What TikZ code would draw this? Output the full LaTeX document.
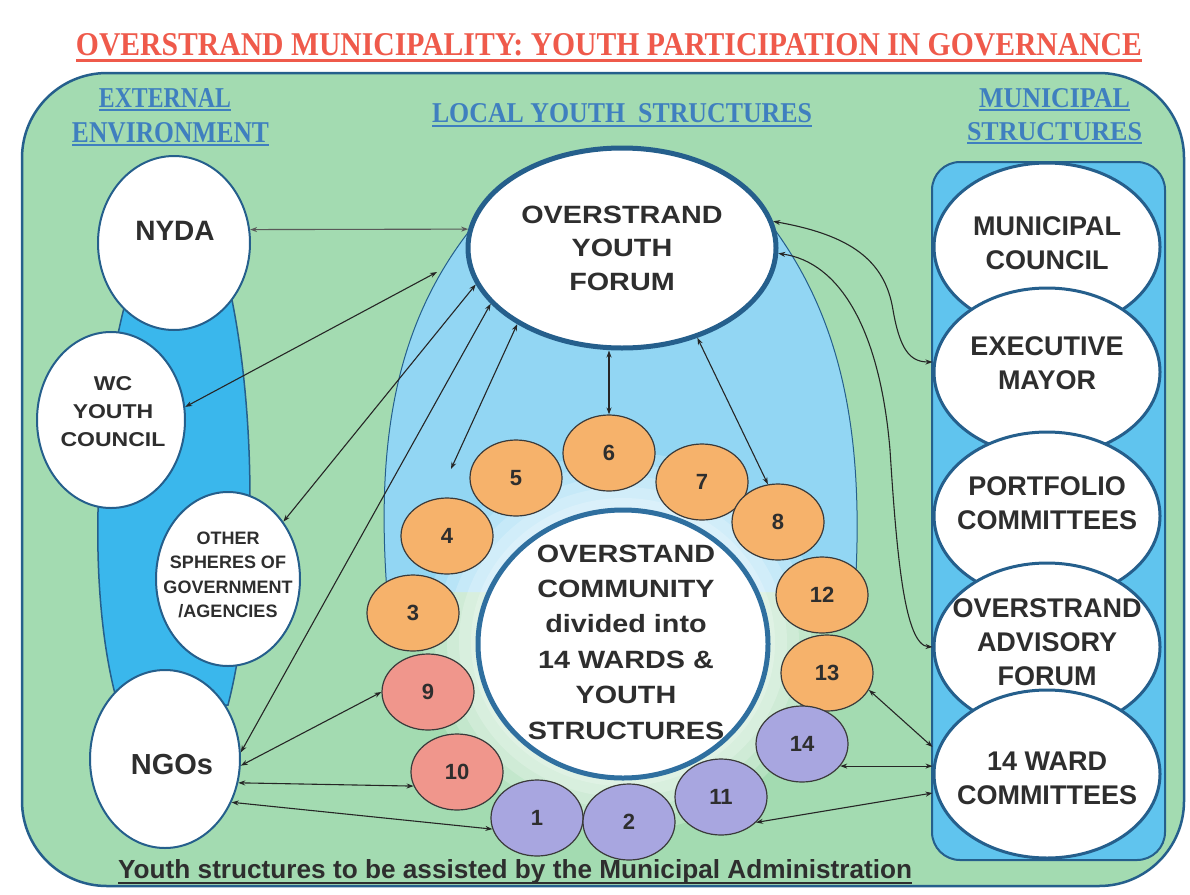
\documentclass[tikz,border=0pt]{standalone}
\usepackage{fontspec}
\usepackage{graphicx}
\setmainfont{Liberation Serif}
\newfontfamily\arial{Liberation Sans}
\newfontfamily\warial{Liberation Sans}[FakeStretch=1.15]
\usetikzlibrary{shapes.geometric,arrows.meta}
\definecolor{bggreen}{HTML}{A3DBB1}
\definecolor{borderblue}{HTML}{255F8C}
\definecolor{bandblue}{HTML}{3AB7EC}
\definecolor{archblue}{HTML}{92D6F3}
\definecolor{panelblue}{HTML}{60C4EE}
\definecolor{commblue}{HTML}{2F6F9F}
\definecolor{wardorange}{HTML}{F6B26B}
\definecolor{wardpink}{HTML}{F0968C}
\definecolor{wardlilac}{HTML}{A8A6E0}
\definecolor{wardedge}{HTML}{3A3A3A}
\definecolor{textdark}{HTML}{2E2E2E}
\definecolor{titlered}{HTML}{EF5A4B}
\definecolor{headblue}{HTML}{3F7FBF}
\tikzset{
  lcirc/.style={ellipse, draw=borderblue, line width=2pt, fill=white, inner sep=0pt},
  rcirc/.style={ellipse, draw=borderblue, line width=3pt, fill=white, inner sep=0pt,
                minimum width=226pt, minimum height=168pt},
  wardbase/.style={ellipse, draw=wardedge, line width=1.2pt, inner sep=0pt,
                minimum width=92pt, minimum height=76pt,
                font=\arial\bfseries\fontsize{22}{24}\selectfont, text=textdark},
  wo/.style={wardbase, fill=wardorange},
  wp/.style={wardbase, fill=wardpink},
  wl/.style={wardbase, fill=wardlilac},
  rtext/.style={font=\arial\bfseries\fontsize{27}{34}\selectfont, text=textdark, align=center},
  conn/.style={{Stealth[length=7pt,width=5pt]}-{Stealth[length=7pt,width=5pt]},
               line width=1.1pt, draw=black!85},
  headtxt/.style={text=headblue, inner sep=0pt, anchor=base},
  headline/.style={draw=headblue, line width=1.5pt}
}
\begin{document}
\begin{tikzpicture}[x=1pt,y=-1pt]
\useasboundingbox (0,0) rectangle (1190,894);
\fill[white] (0,0) rectangle (1190,894);

% main green area
\draw[fill=bggreen, draw=borderblue, line width=2.5pt, rounded corners=85pt]
  (22,73) rectangle (1184,886);

% left blue band
\draw[fill=bandblue, draw=borderblue, line width=1.5pt]
  (126,300) .. controls (92,430) and (88,600) .. (118,705) -- (228,705)
  .. controls (255,600) and (258,430) .. (232,300) -- cycle;

% local youth structures arch
\fill[archblue] (387,592) .. controls (375,430) and (400,320) .. (470,230)
  -- (775,230) .. controls (840,320) and (865,430) .. (855,592) -- cycle;
\draw[borderblue, line width=1pt] (387,592) .. controls (375,430) and (400,320) .. (470,230);
\draw[borderblue, line width=1pt] (855,592) .. controls (865,430) and (840,320) .. (775,230);

% soft glow around community
\foreach \r/\s in {200/190, 188/178, 176/166, 164/155, 152/144}{
  \fill[white, opacity=0.2] (623,642) ellipse [x radius=\r, y radius=\s];
}

% left circles
\node[lcirc, minimum width=152pt, minimum height=174pt] (nyda) at (174,243) {};
\node[lcirc, minimum width=148pt, minimum height=176pt] (wc) at (111,420) {};
\node[lcirc, minimum width=144pt, minimum height=174pt] (other) at (228,579) {};
\node[lcirc, minimum width=150pt, minimum height=178pt] (ngos) at (165,759) {};
\node[font=\arial\bfseries\fontsize{28}{30}\selectfont, text=textdark] at (175,231) {NYDA};
\node[font=\warial\bfseries\fontsize{20}{28}\selectfont, text=textdark, align=center] at (113,412) {WC\\YOUTH\\COUNCIL};
\node[font=\arial\bfseries\fontsize{18}{24.5}\selectfont, text=textdark, align=center] at (228,575) {OTHER\\SPHERES OF\\GOVERNMENT\\/AGENCIES};
\node[font=\arial\bfseries\fontsize{29}{30}\selectfont, text=textdark] at (172,765) {NGOs};

% youth forum
\node[ellipse, draw=borderblue, line width=5pt, fill=white, inner sep=0pt,
      minimum width=308pt, minimum height=200pt] (forum) at (622,248) {};
\node[font=\warial\bfseries\fontsize{25}{33.5}\selectfont, text=textdark, align=center] at (622,248) {OVERSTRAND\\YOUTH\\FORUM};

% ward ring
\node[wo] (r3) at (413,613) {3};
\node[wo] (r4) at (447,536) {4};
\node[wo] (r5) at (516,478) {5};
\node[wo] (r6) at (609,453) {6};
\node[wo] (r7) at (702,482) {7};
\node[wo] (r8) at (778,522) {8};
\node[wo] (r12) at (822,595) {12};
\node[wo] (r13) at (827,673) {13};
\node[wl] (r14) at (802,744) {14};
\node[wp] (r9) at (428,692) {9};
\node[wp] (r10) at (457,772) {10};
\node[wl] (r1) at (537,818) {1};
\node[wl] (r2) at (629,822) {2};
\node[wl] (r11) at (721,797) {11};

% community circle
\node[ellipse, draw=commblue, line width=5pt, fill=white, inner sep=0pt,
      minimum width=290pt, minimum height=268pt] (comm) at (623,644) {};
\node[font=\warial\bfseries\fontsize{25}{35.4}\selectfont, text=textdark, align=center] at (626,642)
  {OVERSTAND\\COMMUNITY\\divided into\\14 WARDS \&\\YOUTH\\STRUCTURES};

% municipal structures panel
\node[draw=borderblue, line width=2pt, fill=panelblue, rounded corners=28pt, inner sep=0pt,
      minimum width=233pt, minimum height=698pt] (panel) at (1048.5,511) {};
\node[rcirc] (council) at (1047,247) {};
\node[rcirc] (mayor) at (1047,372) {};
\node[rcirc] (portfolio) at (1047,516) {};
\node[rcirc] (advisory) at (1047,647) {};
\node[rcirc] (ward) at (1047,774) {};
\node[rtext] at (1047,243) {MUNICIPAL\\COUNCIL};
\node[rtext] at (1047,363) {EXECUTIVE\\MAYOR};
\node[rtext] at (1047,503) {PORTFOLIO\\COMMITTEES};
\node[rtext] at (1047,642) {OVERSTRAND\\ADVISORY\\FORUM};
\node[rtext] at (1047,778) {14 WARD\\COMMITTEES};

% connectors
\draw[conn, draw=black!65] (nyda.10) -- (forum.173);
\coordinate (aW) at (437,272);
\draw[conn] (wc.10) -- (aW);
\draw[conn] (other.46) -- (forum.194);
\draw[conn] (ngos.5) -- (forum.203);
\coordinate (w45) at (451,469);
\draw[conn] (forum.216) -- (w45);
\draw[conn] (ngos.-5) -- (r9.180);
\draw[conn] (ngos.-18) -- (r10.198);
\draw[conn] (ngos.-33) -- (r1.194);
\draw[conn, line width=2pt] (r6.north) -- (r6.north |- forum.south);
\draw[conn] (forum.-50) -- (r8.105);
\draw[conn] (forum.10) .. controls (850,235) and (885,260) .. (893,310)
  .. controls (900,350) and (910,362) .. ([yshift=10pt]mayor.west);
\draw[conn] (forum.358) .. controls (840,262) and (880,330) .. (890,450)
  .. controls (897,560) and (905,645) .. (advisory.west);
\draw[conn] (r13.-22) -- ([yshift=27pt]ward.west);
\draw[conn] (r14.-30) -- (r14.-30 -| ward.west);
\draw[conn] (r11.-36) -- ([yshift=-19pt]ward.west);

% title
\node[text=titlered, inner sep=0pt, anchor=base] (title) at (609,55)
  {\resizebox{1066pt}{22pt}{\bfseries OVERSTRAND MUNICIPALITY: YOUTH PARTICIPATION IN GOVERNANCE}};
\draw[titlered, line width=3pt] (76,60) -- (1142,60);

% headers
\node[headtxt] (h1) at (165,107) {\resizebox{132pt}{19pt}{\bfseries EXTERNAL}};
\draw[headline] (99,110) -- (231,110);
\node[headtxt] (h2) at (170.5,142) {\resizebox{197pt}{20pt}{\bfseries ENVIRONMENT}};
\draw[headline] (72,145) -- (269,145);
\node[headtxt] (h3) at (622,122) {\resizebox{380pt}{19pt}{\bfseries LOCAL YOUTH\ \ STRUCTURES}};
\draw[headline] (432,126) -- (812,126);
\node[headtxt] (h4) at (1054.5,107) {\resizebox{151pt}{19pt}{\bfseries MUNICIPAL}};
\draw[headline] (979,110) -- (1130,110);
\node[headtxt] (h5) at (1054.5,140) {\resizebox{175pt}{18pt}{\bfseries STRUCTURES}};
\draw[headline] (967,143) -- (1142,143);

% bottom text
\node[anchor=base west, inner sep=0pt, text=textdark] (foot) at (118,878)
  {\resizebox{794pt}{!}{\arial\bfseries Youth structures to be assisted by the Municipal Administration}};
\draw[textdark, line width=2.5pt] (118,883) -- (912,883);
\end{tikzpicture}
\end{document}
